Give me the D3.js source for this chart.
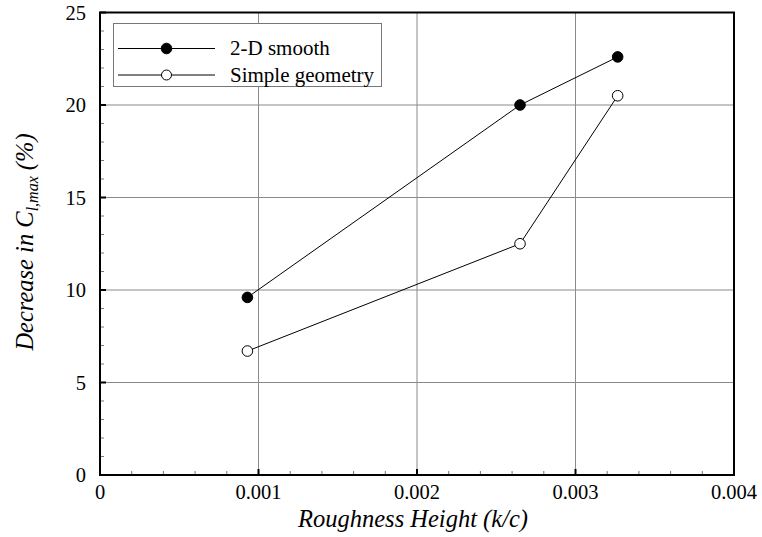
<!DOCTYPE html>
<html><head><meta charset="utf-8">
<script src="https://cdn.jsdelivr.net/npm/d3@7"></script>
<style>body{margin:0;background:#fff;}</style>
</head><body>
<svg id="c" width="762" height="537"></svg>
<script>
const xValues = [0.00093, 0.00265, 0.003266];
const smooth2D = [9.6, 20.0, 22.6];
const simpleGeom = [6.7, 12.5, 20.5];
const seriesNames = ["2-D smooth", "Simple geometry"];
const xTicks = [0, 0.001, 0.002, 0.003, 0.004];
const xTickLabels = ["0", "0.001", "0.002", "0.003", "0.004"];
const yTicks = [0, 5, 10, 15, 20, 25];
const yTickLabels = ["0", "5", "10", "15", "20", "25"];

const FONT = "'Liberation Serif', 'Times New Roman', serif";
const svg = d3.select("#c");
const L = 100, R = 734, T = 12.5, B = 475;
const x = d3.scaleLinear().domain([0, 0.004]).range([L, R]);
const y = d3.scaleLinear().domain([0, 25]).range([B, T]);

// grid
const g = svg.append("g");
g.selectAll(".gx").data(xTicks.slice(1, -1)).enter().append("line")
  .attr("x1", d => x(d)).attr("x2", d => x(d)).attr("y1", T).attr("y2", B)
  .attr("stroke", "#8a8a8a").attr("stroke-width", 1);
g.selectAll(".gy").data(yTicks.slice(1, -1)).enter().append("line")
  .attr("y1", d => y(d)).attr("y2", d => y(d)).attr("x1", L).attr("x2", R)
  .attr("stroke", "#8a8a8a").attr("stroke-width", 1);

// minor ticks
const xMinor = d3.range(0, 0.0040001, 0.0002).filter((d, i) => i % 5 !== 0);
const yMinor = d3.range(0, 25.001, 1).filter((d, i) => i % 5 !== 0);
g.selectAll(".mx").data(xMinor).enter().append("line")
  .attr("x1", d => x(d)).attr("x2", d => x(d)).attr("y1", B).attr("y2", B - 4)
  .attr("stroke", "#777").attr("stroke-width", 1);
g.selectAll(".my").data(yMinor).enter().append("line")
  .attr("y1", d => y(d)).attr("y2", d => y(d)).attr("x1", L).attr("x2", L + 4)
  .attr("stroke", "#777").attr("stroke-width", 1);
// major ticks
g.selectAll(".Mx").data(xTicks).enter().append("line")
  .attr("x1", d => x(d)).attr("x2", d => x(d)).attr("y1", B).attr("y2", B - 6)
  .attr("stroke", "#000").attr("stroke-width", 2);
g.selectAll(".My").data(yTicks).enter().append("line")
  .attr("y1", d => y(d)).attr("y2", d => y(d)).attr("x1", L).attr("x2", L + 6)
  .attr("stroke", "#000").attr("stroke-width", 2);

// frame
svg.append("rect").attr("x", L).attr("y", T).attr("width", R - L).attr("height", B - T)
  .attr("fill", "none").attr("stroke", "#000").attr("stroke-width", 2);

// tick labels
svg.selectAll(".xl").data(xTicks).enter().append("text")
  .attr("x", d => x(d)).attr("y", B + 24).attr("text-anchor", "middle")
  .style("font-family", FONT).attr("font-size", 20.5).text((d, i) => xTickLabels[i]);
svg.selectAll(".yl").data(yTicks).enter().append("text")
  .attr("x", L - 14).attr("y", d => y(d) + 7).attr("text-anchor", "end")
  .style("font-family", FONT).attr("font-size", 20.5).text((d, i) => yTickLabels[i]);

// axis titles
svg.append("text").attr("x", 413).attr("y", 527).attr("text-anchor", "middle")
  .style("font-family", FONT).attr("font-size", 24.5).attr("font-style", "italic").text("Roughness Height (k/c)");
const yt = svg.append("text").attr("transform", "translate(33,242) rotate(-90)")
  .attr("text-anchor", "middle").style("font-family", FONT).attr("font-size", 24.5).attr("font-style", "italic");
yt.append("tspan").text("Decrease in C");
yt.append("tspan").attr("font-size", 16).attr("dy", 5).text("l,max");
yt.append("tspan").attr("dy", -5).text(" (%)");

// lines
const line = d3.line().x((d, i) => x(xValues[i])).y(d => y(d));
[smooth2D, simpleGeom].forEach((s, k) => {
  svg.append("path").datum(s).attr("d", line).attr("fill", "none")
    .attr("stroke", "#000").attr("stroke-width", 1);
  svg.selectAll(".p" + k).data(s).enter().append("circle")
    .attr("cx", (d, i) => x(xValues[i])).attr("cy", d => y(d)).attr("r", 5.3)
    .attr("fill", k === 0 ? "#000" : "#fff").attr("stroke", "#000").attr("stroke-width", 1);
});

// legend
const lg = svg.append("g");
lg.append("rect").attr("x", 113.5).attr("y", 23.5).attr("width", 268).attr("height", 63)
  .attr("fill", "#fff").attr("stroke", "#777").attr("stroke-width", 1);
const ly = [48.5, 75];
seriesNames.forEach((n, k) => {
  lg.append("line").attr("x1", 118).attr("x2", 215).attr("y1", ly[k]).attr("y2", ly[k])
    .attr("stroke", "#000").attr("stroke-width", 1);
  lg.append("circle").attr("cx", 166.5).attr("cy", ly[k]).attr("r", k === 0 ? 5.3 : 5)
    .attr("fill", k === 0 ? "#000" : "#fff").attr("stroke", "#000");
  lg.append("text").attr("x", 230).attr("y", ly[k] + 6.5).style("font-family", FONT).attr("font-size", 21).text(n);
});
</script>
</body></html>
